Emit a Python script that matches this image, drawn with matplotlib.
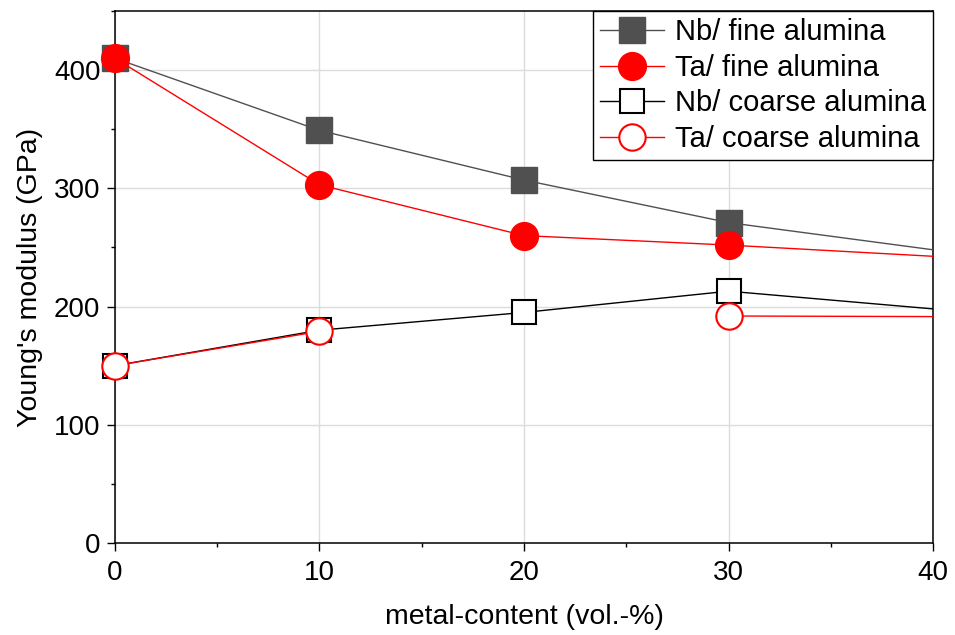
import numpy as np
import matplotlib.pyplot as plt
from matplotlib.ticker import MultipleLocator
from matplotlib.patches import Rectangle

plt.rcParams['font.family'] = ['Liberation Sans', 'DejaVu Sans']

# metal content (vol.-%); last point lies outside the shown range
metal = [0, 10, 20, 30, 50]
nb_fine = [410, 349, 307, 271, 225]
ta_fine = [410, 303, 260, 252, 233]
nb_coarse = [150, 180, 195, 213, 183]
ta_coarse = [150, 179, np.nan, 192, 191]

fig = plt.figure(figsize=(9.55, 6.35), dpi=100)
ax = fig.add_axes([0.1204, 0.1449, 0.8566, 0.8378])

ax.plot(metal, nb_fine, '-s', color='#505050', lw=1, ms=18.5, mfc='#505050', mec='#505050',
        label='Nb/ fine alumina', zorder=3)
ax.plot(metal, ta_fine, '-o', color='red', lw=1, ms=20, mfc='red', mec='red',
        label='Ta/ fine alumina', zorder=4)
ax.plot(metal, nb_coarse, '-s', color='black', lw=1, ms=17, mfc='white', mec='black', mew=1.5,
        label='Nb/ coarse alumina', zorder=3)
ax.plot(metal, ta_coarse, '-o', color='red', lw=1, ms=19, mfc='white', mec='red', mew=1.5,
        label='Ta/ coarse alumina', zorder=4)

ax.set_xlim(0, 40)
ax.set_ylim(0, 450)

# markers at x=0 stay whole, lines are cut at the right edge
clip = Rectangle((-5, -50), 45, 600, transform=ax.transData)
for ln in ax.lines:
    ln.set_clip_path(clip)

ax.xaxis.set_major_locator(MultipleLocator(10))
ax.xaxis.set_minor_locator(MultipleLocator(5))
ax.yaxis.set_major_locator(MultipleLocator(100))
ax.yaxis.set_minor_locator(MultipleLocator(50))
ax.tick_params(which='major', direction='out', length=5.5, width=1, labelsize=20,
               top=False, right=False)
ax.tick_params(axis='x', which='major', pad=7)
ax.tick_params(axis='y', which='major', pad=5)
ax.tick_params(which='minor', direction='out', length=3, width=1, top=False, right=False)
ax.grid(True, which='major', color='#dcdcdc', lw=1)
ax.set_axisbelow(True)
for s in ax.spines.values():
    s.set_linewidth(1.1)

ax.set_xlabel('metal-content (vol.-%)', fontsize=20.5, labelpad=13)
ax.set_ylabel("Young's modulus (GPa)", fontsize=20.5, labelpad=8)

leg = ax.legend(loc='upper right', fontsize=21, frameon=True, fancybox=False,
                edgecolor='black', borderaxespad=0, handlelength=2.2,
                handletextpad=0.35, labelspacing=0.26, borderpad=0.25)
leg.get_frame().set_linewidth(1)
leg.get_frame().set_alpha(1)

fig.savefig('out.png', dpi=100)
